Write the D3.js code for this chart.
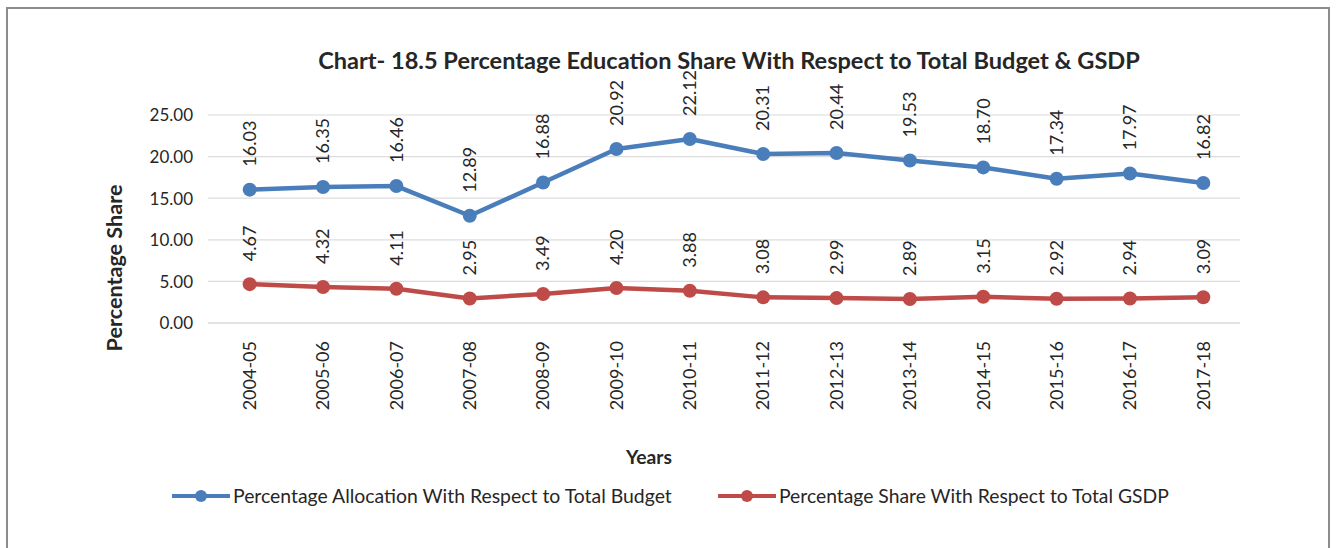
<!DOCTYPE html>
<html>
<head>
<meta charset="utf-8">
<script src="https://cdn.jsdelivr.net/npm/d3@7"></script>
<style>
html,body{margin:0;padding:0;background:#fff;}
svg{display:block;}
text{font-family:Lato,"Open Sans",sans-serif;fill:#262626;}
</style>
</head>
<body>
<svg id="chart" width="1336" height="548"></svg>
<script>
const categories = ["2004-05","2005-06","2006-07","2007-08","2008-09","2009-10","2010-11","2011-12","2012-13","2013-14","2014-15","2015-16","2016-17","2017-18"];
const budgetShare = [16.03,16.35,16.46,12.89,16.88,20.92,22.12,20.31,20.44,19.53,18.70,17.34,17.97,16.82];
const gsdpShare = [4.67,4.32,4.11,2.95,3.49,4.20,3.88,3.08,2.99,2.89,3.15,2.92,2.94,3.09];
const yTicks = [0,5,10,15,20,25];
const seriesNames = ["Percentage Allocation With Respect to Total Budget","Percentage Share With Respect to Total GSDP"];
const titleText = "Chart- 18.5 Percentage Education Share With Respect to Total Budget & GSDP";

const svg = d3.select("#chart");
const colors = ["#4A7EBB","#BE4B48"];

svg.append("rect").attr("x",7).attr("y",8).attr("width",1322).attr("height",560)
  .attr("fill","none").attr("stroke","#8c8c8c").attr("stroke-width",2);

const x = d3.scaleBand().domain(categories).range([213,1240]);
const y = d3.scaleLinear().domain([0,25]).range([323,115]);
const cx = d => x(d) + x.bandwidth()/2;

svg.append("g").selectAll("line").data(yTicks).join("line")
  .attr("x1",208).attr("x2",1240).attr("y1",d=>y(d)).attr("y2",d=>y(d))
  .attr("stroke",d=>d===0?"#c8c8c8":"#dcdcdc").attr("stroke-width",1.2);

const yAxis = d3.axisLeft(y).tickValues(yTicks).tickFormat(d3.format(".2f")).tickSize(0).tickPadding(0);
const ya = svg.append("g").attr("transform","translate(193,0)").call(yAxis);
ya.select(".domain").remove();
ya.selectAll("text").style("font-size","17px").style("font-family","Lato").attr("fill","#404040").attr("dy","0.35em");

const xAxis = d3.axisBottom(x).tickSize(0).tickPadding(0);
const xa = svg.append("g").call(xAxis);
xa.select(".domain").remove();
xa.selectAll(".tick").attr("transform",d=>`translate(${cx(d)},341)`);
xa.selectAll("text").attr("transform","rotate(-90)").attr("x",0).attr("y",0).attr("dy","0.35em")
  .attr("text-anchor","end").style("font-size","18px").style("font-family","Lato").attr("fill","#404040");

const series = [budgetShare, gsdpShare];
const line = d3.line().x((d,i)=>cx(categories[i])).y(d=>y(d));
series.forEach((vals,si)=>{
  const g = svg.append("g");
  g.append("path").datum(vals).attr("d",line).attr("fill","none")
    .attr("stroke",colors[si]).attr("stroke-width",4.5).attr("stroke-linejoin","round");
  g.selectAll("circle").data(vals).join("circle")
    .attr("cx",(d,i)=>cx(categories[i])).attr("cy",d=>y(d)).attr("r",7).attr("fill",colors[si]);
  g.selectAll("text").data(vals).join("text")
    .attr("transform",(d,i)=>`translate(${cx(categories[i])},${y(d)-23}) rotate(-90)`)
    .attr("dy","0.35em").attr("text-anchor","start")
    .style("font-size","18px").attr("fill","#404040")
    .text(d=>d3.format(".2f")(d));
});

function fit(sel, target, base){
  const w = sel.node().getComputedTextLength();
  sel.style("font-size", (base*target/w).toFixed(2)+"px");
}

const title = svg.append("text").attr("x",729).attr("y",69).attr("text-anchor","middle")
  .style("font-size","19px").style("font-weight","bold").attr("fill","#1a1a1a").text(titleText);
fit(title, 822, 19);

const yt = svg.append("text").attr("transform","translate(122,268) rotate(-90)").attr("text-anchor","middle")
  .style("font-size","18px").style("font-weight","bold").attr("fill","#1a1a1a").text("Percentage Share");
fit(yt, 167, 18);
const xt = svg.append("text").attr("x",649).attr("y",464).attr("text-anchor","middle")
  .style("font-size","16px").style("font-weight","bold").attr("fill","#1a1a1a").text("Years");
fit(xt, 46, 16);

const legX = [172,718];
const legW = [439,390];
seriesNames.forEach((n,i)=>{
  const g = svg.append("g").attr("transform",`translate(${legX[i]},496)`);
  g.append("line").attr("x1",0).attr("x2",58).attr("y1",0).attr("y2",0).attr("stroke",colors[i]).attr("stroke-width",4);
  g.append("circle").attr("cx",29).attr("cy",0).attr("r",6).attr("fill",colors[i]);
  const t = g.append("text").attr("x",61).attr("y",0).attr("dy","0.35em").style("font-size","16px").attr("fill","#262626").text(n);
  fit(t, legW[i], 16);
});
</script>
</body>
</html>
